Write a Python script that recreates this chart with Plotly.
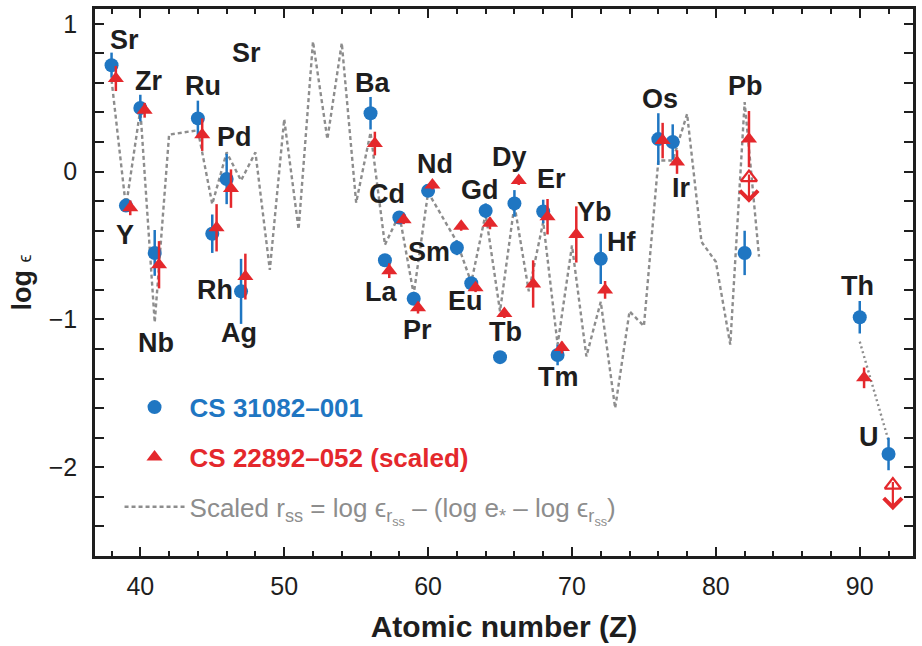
import plotly.graph_objects as go
import numpy as np

# ---------------- data ----------------
# CS 31082-001 (blue circles)
blue_el = ["Sr","Y","Zr","Nb","Ru","Rh","Pd","Ag","Ba","La","Ce","Pr","Nd","Sm","Eu",
           "Gd","Tb","Dy","Er","Tm","Hf","Os","Ir","Pb","Th","U"]
blue_z = [38,39,40,41,44,45,46,47,56,57,58,59,60,62,63,64,65,66,68,69,72,76,77,82,90,92]
blue_val = [0.72,-0.23,0.43,-0.55,0.36,-0.42,-0.05,-0.81,0.395,-0.60,-0.31,-0.86,-0.13,
            -0.515,-0.755,-0.265,-1.255,-0.215,-0.27,-1.24,-0.59,0.22,0.20,-0.55,-0.985,-1.91]
blue_err = [0.085,0.04,0.09,0.155,0.12,0.13,0.17,0.22,0.11,0.04,0.04,0.04,0.04,0.05,0.03,
            0.05,0.03,0.09,0.08,0.07,0.17,0.175,0.12,0.15,0.11,0.11]

# CS 22892-052 (scaled) (red triangles)
red_z = [38,39,40,41,44,45,46,47,56,57,58,59,60,62,63,64,65,66,67,68,69,70,72,76,77,82,90]
red_val = [0.63,-0.245,0.415,-0.63,0.25,-0.38,-0.115,-0.71,0.19,-0.67,-0.325,-0.92,-0.09,
           -0.37,-0.785,-0.35,-0.96,-0.06,-0.76,-0.305,-1.19,-0.425,-0.80,0.21,0.065,0.22,-1.395]
red_err = [0.085,0.05,0.05,0.16,0.11,0.16,0.13,0.155,0.08,0.05,0.03,0.04,0.03,0.03,0.03,
           0.04,0.03,0.03,0.16,0.12,0.04,0.19,0.06,0.12,0.08,0.19,0.07]

# CS 22892-052 upper limits (open triangles with arrows)
limit_z = [82, 92]
limit_val = [-0.04, -2.12]

# Scaled solar-system r-process curve
rss_z = [38,39,40,41,42,44,45,46,47,48,49,50,51,52,53,54,55,56,57,58,59,60,62,63,64,65,66,
         67,68,69,70,71,72,73,74,75,76,77,78,79,80,81,82,83]
rss_val = [0.62,-0.24,0.42,-1.02,0.25,0.28,-0.22,0.13,-0.06,0.13,-0.665,0.355,-0.39,0.88,
           0.22,0.87,-0.21,0.265,-0.495,-0.29,-0.83,-0.14,-0.475,-0.75,-0.285,-0.945,-0.225,
           -0.81,-0.34,-1.17,-0.5,-1.25,-0.88,-1.6,-0.945,-1.045,0.075,0.075,0.39,-0.475,
           -0.61,-1.17,0.47,-0.575]
thu_z = [90, 92]
thu_val = [-1.15, -1.82]

# Element labels (text, Z position, log eps position)
label_text = ["Sr","Sr","Zr","Ru","Pd","Y","Nb","Rh","Ag","Ba","Nd","Dy","Gd","Er","Cd",
              "Yb","Hf","Sm","La","Eu","Pr","Tb","Tm","Os","Pb","Ir","Th","U"]
label_z = [38.93,47.35,40.54,44.35,46.55,38.93,41.12,45.16,46.89,56.12,60.51,65.64,63.63,
           68.59,57.16,71.59,73.44,60.05,56.70,62.59,59.24,65.36,69.05,76.09,82.09,77.59,
           89.83,90.64]
label_val = [0.893,0.804,0.613,0.58,0.232,-0.43,-1.159,-0.80,-1.092,0.602,0.052,0.097,
             -0.127,-0.053,-0.154,-0.272,-0.475,-0.542,-0.811,-0.872,-1.069,-1.085,-1.388,
             0.49,0.58,-0.109,-0.777,-1.792]

x_ticks = [40, 50, 60, 70, 80, 90]
y_ticks = [-2, -1, 0, 1]

# ---------------- style ----------------
BLUE = "#1f76c2"
RED = "#e4282c"
GREY = "#8d8d8d"
INK = "#1e1e1e"
FONT = "Liberation Sans, Arial, Helvetica, sans-serif"
RED_OFFSET = 0.3

fig = go.Figure()

fig.add_trace(go.Scatter(
    x=rss_z, y=rss_val, mode="lines",
    line=dict(color=GREY, width=2.4, dash="4px,3px"),
    name="<span style='color:%s'>Scaled r<sub>ss</sub> = log ϵ<sub>r<sub>ss</sub></sub> – "
         "(log e<sub>*</sub> – log ϵ<sub>r<sub>ss</sub></sub>)</span>" % GREY,
    legendgroup="c", legendrank=3))
fig.add_trace(go.Scatter(
    x=thu_z, y=thu_val, mode="lines",
    line=dict(color=GREY, width=2.4, dash="2px,3px"),
    showlegend=False, legendgroup="c"))

fig.add_trace(go.Scatter(
    x=blue_z, y=blue_val, mode="markers",
    marker=dict(symbol="circle", size=14, color=BLUE),
    error_y=dict(type="data", array=blue_err, color=BLUE, thickness=2.5, width=0),
    name="<b><span style='color:%s'>CS 31082–001</span></b>" % BLUE,
    legendgroup="a", legendrank=1))

red_x = np.array(red_z, dtype=float) + RED_OFFSET
fig.add_trace(go.Scatter(
    x=red_x, y=red_val, mode="markers",
    marker=dict(symbol="triangle-up", size=14, color=RED),
    error_y=dict(type="data", array=red_err, color=RED, thickness=2.5, width=0),
    name="<b><span style='color:%s'>CS 22892–052 (scaled)</span></b>" % RED,
    legendgroup="b", legendrank=2))

lim_x = np.array(limit_z, dtype=float) + RED_OFFSET
fig.add_trace(go.Scatter(
    x=lim_x, y=limit_val, mode="markers",
    marker=dict(symbol="triangle-up-open", size=14, color=RED, line=dict(width=2.2, color=RED)),
    showlegend=False))

annotations = []
for xx, vv in zip(lim_x, limit_val):
    annotations.append(dict(
        x=xx, y=vv - 0.17, ax=xx, ay=vv + 0.03, xref="x", yref="y", axref="x", ayref="y",
        showarrow=True, arrowhead=4, arrowsize=1.6, arrowwidth=2.2, arrowcolor=RED, text=""))

for t, zz, vv in zip(label_text, label_z, label_val):
    annotations.append(dict(
        x=zz, y=vv, xref="x", yref="y", text="<b>%s</b>" % t, showarrow=False,
        xanchor="center", yanchor="middle",
        font=dict(family=FONT, size=27, color=INK)))

fig.update_layout(
    width=922, height=646,
    margin=dict(l=95, r=6, t=6, b=90),
    paper_bgcolor="white", plot_bgcolor="white",
    font=dict(family=FONT, color=INK),
    showlegend=True,
    legend=dict(x=0.030, y=0.315, xanchor="left", yanchor="top",
                bgcolor="rgba(0,0,0,0)", font=dict(family=FONT, size=26),
                tracegroupgap=13, traceorder="grouped", itemwidth=60),
    annotations=annotations,
)

fig.update_xaxes(
    range=[36.85, 93.7], tickvals=x_ticks, ticktext=[str(v) for v in x_ticks],
    ticks="inside", ticklen=9, tickwidth=2, tickcolor=INK,
    minor=dict(dtick=2, tick0=0, ticks="inside", ticklen=5, tickwidth=2, tickcolor=INK),
    showline=True, linecolor=INK, linewidth=2.5, mirror="ticks",
    showgrid=False, zeroline=False,
    tickfont=dict(family=FONT, size=25, color=INK),
    ticklabelstandoff=6,
    title=dict(text="<b>Atomic number (Z)</b>", font=dict(family=FONT, size=30, color=INK),
               standoff=18),
)
fig.update_yaxes(
    range=[-2.6, 1.1], tickvals=y_ticks, ticktext=["−2", "−1", "0", "1"],
    ticks="inside", ticklen=9, tickwidth=2, tickcolor=INK,
    minor=dict(dtick=0.2, tick0=0, ticks="inside", ticklen=9, tickwidth=2, tickcolor=INK),
    showline=True, linecolor=INK, linewidth=2.5, mirror="ticks",
    showgrid=False, zeroline=False,
    tickfont=dict(family=FONT, size=25, color=INK),
    ticklabelstandoff=10,
    title=dict(text="<b>log</b> <span style='font-size:18px'>ϵ</span>",
               font=dict(family=FONT, size=27, color=INK), standoff=10),
)

fig.write_html("out.html")
